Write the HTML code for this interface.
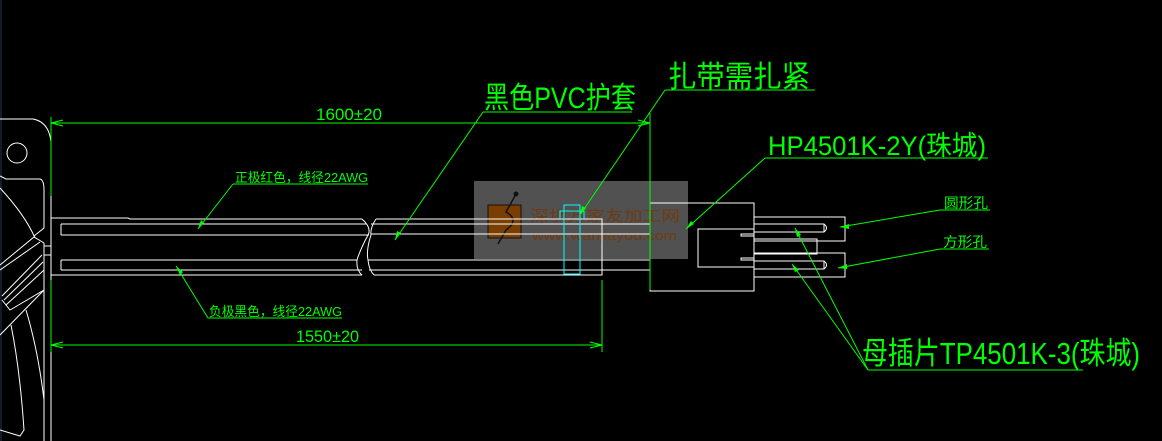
<!DOCTYPE html>
<html><head><meta charset="utf-8"><style>
html,body{margin:0;padding:0;background:#000;width:1162px;height:441px;overflow:hidden}
svg{display:block}
text{font-family:"Liberation Sans","WenQuanYi Zen Hei","Noto Sans CJK SC",sans-serif;fill:#00ff00}
</style></head><body>
<svg width="1162" height="441" viewBox="0 0 1162 441" xmlns="http://www.w3.org/2000/svg">
<rect width="1162" height="441" fill="#000"/>
<line x1="1" y1="0" x2="1" y2="441" stroke="#2a3550" stroke-width="1"/>
<g fill="none" stroke="#fff" stroke-width="1">
<path d="M0 119 H33 Q49 122 51 142"/>
<circle cx="17" cy="153" r="10"/>
<path d="M0 176 L6 179 H40 Q44 180 44 190 V228 L34 236"/>
<path d="M0 188 Q25 215 35 238"/>
<path d="M0 265 L34 237 L44 243 V290 L10 310 L2 300"/>
<path d="M0 270 L40 242"/>
<path d="M2 296 L42 255"/>
<path d="M4 300 L43 262"/>
<path d="M6 305 L44 270"/>
<path d="M0 335 L44 290"/>
<path d="M11 325 Q20 370 24 430 L20 436 L0 430"/>
<path d="M26 310 Q38 350 44 400 V441"/>
<line x1="51" y1="117" x2="51" y2="441"/>
<line x1="44" y1="290" x2="44" y2="441"/>
<line x1="44" y1="246" x2="51" y2="246"/>
<line x1="44" y1="255" x2="51" y2="255"/>
</g>
<rect x="474" y="181" width="214" height="78" fill="#5a5a5a" opacity="0.9"/>
<rect x="488" y="205" width="33" height="33" fill="#7a3e00" stroke="#111" stroke-width="1"/>
<path d="M516 194 L506 212 Q520 220 506 230 L498 244" stroke="#111" stroke-width="1.5" fill="none"/>
<circle cx="516" cy="194" r="2.5" fill="#111"/>
<text x="530" y="221" font-size="15" style="fill:#6d3a12" textLength="150" lengthAdjust="spacingAndGlyphs">深圳万家友加工网</text>
<text x="532" y="240" font-size="13" style="fill:#6d3a12" textLength="145" lengthAdjust="spacingAndGlyphs">www.wanjiayou.com</text>
<g fill="none" stroke="#fff" stroke-width="1">
<path d="M51 218 H128 L130 219 H362"/>
<path d="M51 275 H362"/>
<path d="M61 224 H366 M61 235 H369 M61 224 V235"/>
<path d="M61 260 H357 M61 270 H362 M61 260 V270"/>
<path d="M362 219 Q372 228 368 235 Q360 250 357 260 Q356 270 362 275"/>
<path d="M376 219 Q370 228 371 235 Q366 250 368 260 Q369 270 374 275"/>
<path d="M376 219 H602 V275 H374"/>
<path d="M371 224 H650 M371 234 H650"/>
<path d="M368 260 H650 M369 270 H650"/>
</g>
<g fill="none" stroke="#00ffff" stroke-width="1">
<rect x="564" y="205" width="16" height="69"/>
<path d="M560 219 V211 H584 V219"/>
</g>
<g fill="none" stroke="#fff" stroke-width="1">
<rect x="650" y="203" width="104" height="88"/>
<rect x="698" y="229" width="56" height="38"/>
<path d="M754 234 H741 V236 H754 M754 258 H741 V260 H754"/>
<path d="M754 217 H845 V241 H754 M754 253 H845 V277 H754"/>
<path d="M754 239 H817 V254 H754"/>
<path d="M754 224 H824 Q829 228 824 232 H754 M824 224 V232"/>
<path d="M754 261 H824 Q829 265 824 269 H754 M824 261 V269"/>
</g>
<g stroke="#00ff00" stroke-width="1" fill="none">
<line x1="51" y1="117" x2="51" y2="196"/>
<line x1="51" y1="280" x2="51" y2="352"/>
<line x1="51" y1="123" x2="650" y2="123"/>
<line x1="650" y1="113" x2="650" y2="290"/>
<line x1="51" y1="345" x2="602" y2="345"/>
<line x1="602" y1="280" x2="602" y2="352"/>
<path d="M51 123 L63 120 M51 123 L63 126 M650 123 L638 120 M650 123 L638 126"/>
<path d="M51 345 L63 342 M51 345 L63 348 M602 345 L590 342 M602 345 L590 348"/>
<path d="M233 184 H368 M233 184 L198 229"/>
<path d="M208 318 H342 M208 318 L176 266"/>
<path d="M483 112 H632 M483 112 L395 240"/>
<path d="M665 90 H815 M665 90 L580 215"/>
<path d="M765 158 H988 M765 158 L686 229"/>
<path d="M940 210 H990 M940 210 L840 227"/>
<path d="M940 249 H989 M940 249 L838 268"/>
<path d="M868 370 H1083 M868 370 L795 228 M868 370 L792 264"/>
</g>
<g fill="#00ff00">
<path d="M198 229 L201 220 L204 223Z"/>
<path d="M176 266 L183 272 L180 275Z"/>
<path d="M395 240 L397 231 L401 233Z"/>
<path d="M580 215 L582 206 L586 208Z"/>
<path d="M686 229 L691 221 L694 224Z"/>
<path d="M840 227 L849 224 L849 229Z"/>
<path d="M838 268 L847 264 L847 269Z"/>
<path d="M795 228 L801 235 L797 237Z"/>
<path d="M792 264 L799 270 L795 272Z"/>
</g>
<text x="316" y="120" font-size="17" textLength="66" lengthAdjust="spacingAndGlyphs">1600±20</text>
<text x="296" y="342" font-size="17" textLength="63" lengthAdjust="spacingAndGlyphs">1550±20</text>
<text x="235" y="182" font-size="13" textLength="133" lengthAdjust="spacingAndGlyphs">正极红色，线径22AWG</text>
<text x="209" y="316" font-size="13" textLength="133" lengthAdjust="spacingAndGlyphs">负极黑色，线径22AWG</text>
<text x="484" y="108" font-size="30" textLength="152" lengthAdjust="spacingAndGlyphs">黑色PVC护套</text>
<text x="668" y="87" font-size="30" textLength="142" lengthAdjust="spacingAndGlyphs">扎带需扎紧</text>
<text x="768" y="155" font-size="27" textLength="218" lengthAdjust="spacingAndGlyphs">HP4501K-2Y(珠城)</text>
<text x="944" y="208" font-size="14" textLength="44" lengthAdjust="spacingAndGlyphs">圆形孔</text>
<text x="943" y="247" font-size="14" textLength="44" lengthAdjust="spacingAndGlyphs">方形孔</text>
<text x="862" y="364" font-size="31" textLength="278" lengthAdjust="spacingAndGlyphs">母插片TP4501K-3(珠城)</text>
</svg>
</body></html>
